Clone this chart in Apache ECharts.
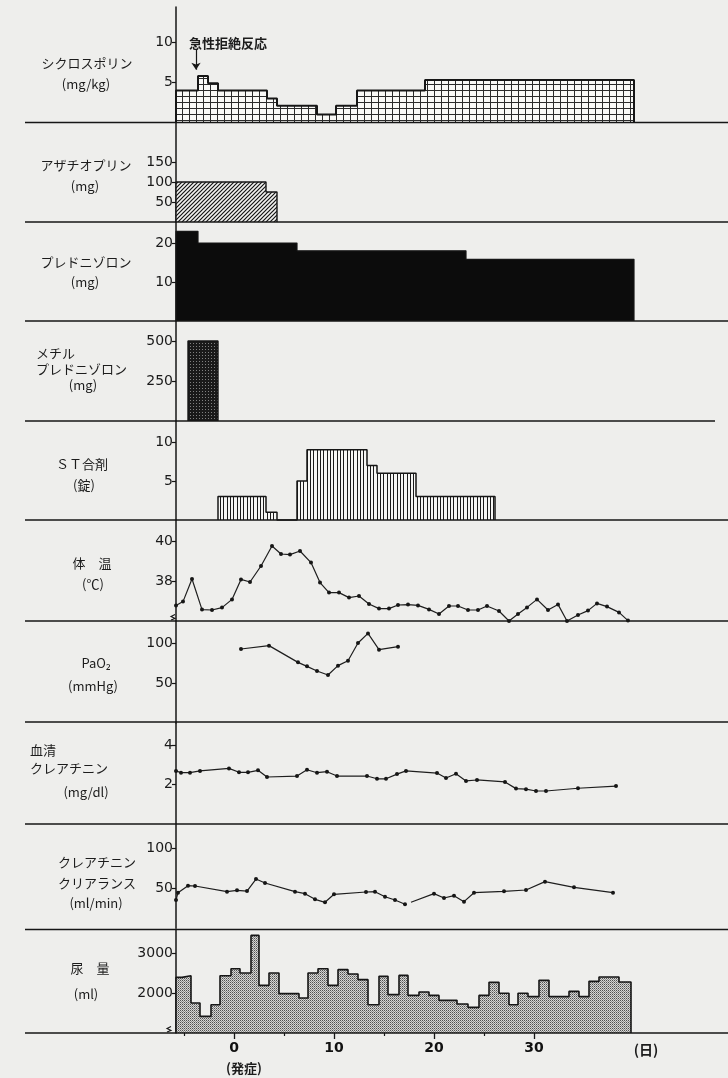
<!DOCTYPE html>
<html>
<head>
<meta charset="utf-8">
<script src="https://cdn.jsdelivr.net/npm/echarts@6/dist/echarts.min.js"></script>
<style>
  html, body { margin: 0; padding: 0; background: #eeeeec; }
  #chart { width: 728px; height: 1078px; }
</style>
</head>
<body>
<div id="chart"></div>
<script>
// ---------- day axis ----------
const dayMajorTicks = [0, 10, 20, 30];
const dayMinorTicks = [-5, 5, 15, 25];

// ---------- stepped dosing panels: interval edges (day) and dose per interval ----------
const cycloEdges = [-5.8, -3.6, -2.6, -1.6, 3.3, 4.3, 8.3, 10.2, 12.3, 19.1, 40.0];
const cycloDose  = [4, 5.8, 4.9, 4, 3, 2.1, 1, 2.1, 4, 5.3];
const cycloTicks = [5, 10];

const azaEdges = [-5.8, 3.2, 4.3];
const azaDose  = [100, 75];
const azaTicks = [50, 100, 150];

const predEdges = [-5.8, -3.6, 6.3, 23.2, 40.0];
const predDose  = [23, 20, 18, 15.8];
const predTicks = [10, 20];

const mpEdges = [-4.6, -1.6];
const mpDose  = [500];
const mpTicks = [250, 500];

const stEdges = [-1.6, 3.2, 4.3, 6.3, 7.3, 13.3, 14.3, 18.2, 26.1];
const stDose  = [3, 1, 0, 5, 9, 7, 6, 3];
const stTicks = [5, 10];

// ---------- body temperature (℃) ----------
const tempDay = [-5.8, -5.1, -4.2, -3.2, -2.2, -1.2, -0.2, 0.7, 1.6, 2.7, 3.8, 4.7, 5.6, 6.6, 7.7, 8.6,
  9.5, 10.5, 11.5, 12.5, 13.5, 14.5, 15.5, 16.4, 17.4, 18.4, 19.5, 20.5, 21.5, 22.4, 23.4, 24.4,
  25.3, 26.5, 27.5, 28.4, 29.3, 30.3, 31.4, 32.4, 33.3, 34.4, 35.4, 36.3, 37.3, 38.5, 39.4];
const tempVal = [36.77, 36.97, 38.1, 36.57, 36.55, 36.67, 37.08, 38.08, 37.95, 38.75, 39.75, 39.35, 39.32, 39.5, 38.92, 37.92,
  37.42, 37.42, 37.17, 37.25, 36.85, 36.62, 36.62, 36.8, 36.82, 36.78, 36.58, 36.35, 36.75, 36.75, 36.55, 36.55,
  36.75, 36.5, 36.0, 36.35, 36.68, 37.08, 36.55, 36.83, 36.0, 36.3, 36.52, 36.88, 36.72, 36.43, 36.02];
const tempTicks = [38, 40];

// ---------- PaO2 (mmHg) ----------
const pao2Day = [0.7, 3.5, 6.4, 7.3, 8.3, 9.4, 10.4, 11.4, 12.4, 13.4, 14.5, 16.4];
const pao2Val = [92.5, 96.7, 75.8, 70.8, 65, 60, 71.7, 77.9, 100, 112, 91.7, 95.4];
const pao2Ticks = [50, 100];

// ---------- serum creatinine (mg/dl) ----------
const creDay = [-5.8, -5.3, -4.4, -3.4, -0.5, 0.5, 1.4, 2.4, 3.3, 6.3, 7.3, 8.3, 9.3, 10.3, 13.3, 14.3,
  15.2, 16.3, 17.2, 20.3, 21.2, 22.2, 23.2, 24.3, 27.1, 28.2, 29.2, 30.2, 31.2, 34.4, 38.2];
const creVal = [2.68, 2.59, 2.59, 2.68, 2.81, 2.61, 2.61, 2.71, 2.37, 2.42, 2.74, 2.59, 2.64, 2.42, 2.42, 2.28,
  2.28, 2.52, 2.68, 2.57, 2.32, 2.54, 2.17, 2.22, 2.12, 1.78, 1.75, 1.66, 1.66, 1.80, 1.91];
const creTicks = [2, 4];

// ---------- creatinine clearance (ml/min), two recorded runs ----------
const ccrDayA = [-5.8, -5.6, -4.6, -3.9, -0.7, 0.3, 1.3, 2.2, 3.1, 6.1, 7.1, 8.1, 9.1, 10.0, 13.2, 14.1, 15.1, 16.1, 17.1];
const ccrValA = [35.4, 44.5, 53.3, 52.9, 45.8, 47.5, 46.6, 61.6, 56.6, 45.8, 43.3, 36.2, 32.5, 42.5, 45.4, 45.8, 39.5, 35.4, 30];
const ccrDayB = [17.7, 20.0, 21.0, 22.0, 23.0, 24.0, 27.0, 29.2, 31.1, 34.0, 37.9];
const ccrValB = [32.5, 43.3, 37.9, 40.8, 33.3, 44.5, 46.2, 47.9, 58.3, 51.2, 44.5];
const ccrTicks = [50, 100];

// ---------- urine volume (ml/day) ----------
const urineEdges = [-5.8, -5.2, -4.3, -3.4, -2.3, -1.4, -0.3, 0.6, 1.7, 2.5, 3.5, 4.5, 6.5, 7.4, 8.4, 9.4,
  10.4, 11.4, 12.4, 13.4, 14.5, 15.4, 16.5, 17.4, 18.5, 19.5, 20.5, 22.3, 23.4, 24.5, 25.5, 26.5,
  27.5, 28.4, 29.4, 30.5, 31.5, 33.5, 34.5, 35.5, 36.5, 38.5, 39.7];
const urineVal = [2390, 2432, 1750, 1415, 1707, 2432, 2607, 2500, 3440, 2190, 2500, 1983, 1875, 2500, 2607,
  2190, 2583, 2475, 2333, 1707, 2416, 1958, 2440, 1940, 2025, 1940, 1816, 1725, 1640, 1940, 2266,
  1993, 1707, 1993, 1908, 2316, 1908, 2040, 1908, 2291, 2400, 2275];
const urineTicks = [2000, 3000];

// ---------- layout ----------
const INK = '#161616';
const AXIS_X = 176;           // left edge of every plot
const DAY_MIN = -5.8, DAY_MAX = 49.4;
const panels = [
  { top: 7,     bottom: 122.5, min: 0,    max: 14.44, ticks: cycloTicks },
  { top: 122.5, bottom: 222,   min: 0,    max: 248.75, ticks: azaTicks },
  { top: 222,   bottom: 321,   min: 0,    max: 25.38, ticks: predTicks },
  { top: 321,   bottom: 421,   min: 0,    max: 625,   ticks: mpTicks },
  { top: 421,   bottom: 520,   min: 0,    max: 12.69, ticks: stTicks },
  { top: 520,   bottom: 621,   min: 36,   max: 41.05, ticks: tempTicks },
  { top: 621,   bottom: 723,   min: 0,    max: 127.5, ticks: pao2Ticks },
  { top: 722,   bottom: 823.6, min: 0,    max: 5.17,  ticks: creTicks },
  { top: 824,   bottom: 928.3, min: 0,    max: 130.4, ticks: ccrTicks },
  { top: 929.5, bottom: 1033,  min: 1000, max: 3587,  ticks: urineTicks }
];
const separators = [122.5, 222, 321, 421, 520, 621, 722, 824, 929.5, 1033];

// ---------- fill patterns ----------
function tile(w, h, draw) {
  const c = document.createElement('canvas');
  c.width = w; c.height = h;
  draw(c.getContext('2d'));
  return c;
}
const gridTile = tile(7, 6, g => {
  g.fillStyle = '#f8f8f6'; g.fillRect(0, 0, 7, 6);
  g.fillStyle = '#2a2a2a'; g.fillRect(0, 0, 7, 1); g.fillRect(0, 0, 1, 6);
});
const hatchTile = tile(4, 4, g => {
  g.fillStyle = '#f2f2f0'; g.fillRect(0, 0, 4, 4);
  g.strokeStyle = '#141414'; g.lineWidth = 1.2;
  g.beginPath();
  g.moveTo(0, 4); g.lineTo(4, 0);
  g.moveTo(-1, 1); g.lineTo(1, -1);
  g.moveTo(3, 5); g.lineTo(5, 3);
  g.stroke();
});
const denseTile = tile(3, 3, g => {
  g.fillStyle = '#1a1a1a'; g.fillRect(0, 0, 3, 3);
  g.fillStyle = '#808080'; g.fillRect(1, 1, 1, 1);
});
const stripeTile = tile(10, 4, g => {
  g.fillStyle = '#f6f6f4'; g.fillRect(0, 0, 10, 4);
  g.fillStyle = '#1a1a1a'; [0, 3, 7].forEach(x => g.fillRect(x, 0, 1, 4));
});
const stippleTile = tile(2, 2, g => {
  g.fillStyle = '#d6d6d4'; g.fillRect(0, 0, 2, 2);
  g.fillStyle = '#505050'; g.fillRect(0, 0, 1, 1);
  g.fillStyle = '#8c8c8c'; g.fillRect(1, 1, 1, 1);
});
const pat = t => ({ image: t, repeat: 'repeat' });

// ---------- helpers ----------
function stepPoints(edges, vals, base) {
  const pts = [[edges[0], base]];
  vals.forEach((v, i) => pts.push([edges[i], v]));
  pts.push([edges[edges.length - 1], vals[vals.length - 1]]);
  pts.push([edges[edges.length - 1], base]);
  return pts;
}
const zip = (xs, ys) => xs.map((x, i) => [x, ys[i]]);

function stepSeries(idx, edges, vals, fill, width) {
  return {
    type: 'line', xAxisIndex: idx, yAxisIndex: idx, step: 'end',
    data: stepPoints(edges, vals, panels[idx].min),
    symbol: 'none', clip: false,
    lineStyle: { color: INK, width: width },
    areaStyle: { color: fill, opacity: 1, origin: 'start' }
  };
}
function dotSeries(idx, data) {
  return {
    type: 'line', xAxisIndex: idx, yAxisIndex: idx, data: data,
    symbol: 'circle', symbolSize: 4, clip: false,
    itemStyle: { color: INK },
    lineStyle: { color: '#1e1e1e', width: 1.2 }
  };
}

const numFont = "'DejaVu Sans', 'Liberation Sans', sans-serif";
const jpFont = "'Noto Sans CJK JP', 'Noto Sans', sans-serif";

const grids = panels.map(p => ({ left: AXIS_X, right: 0, top: p.top, height: p.bottom - p.top }));
const xAxes = panels.map((p, i) => ({
  gridIndex: i, type: 'value', position: 'bottom', min: DAY_MIN, max: DAY_MAX, show: i === panels.length - 1,
  axisLine: { show: false, onZero: false }, splitLine: { show: false },
  axisTick: { show: true, length: 6, customValues: dayMajorTicks, lineStyle: { color: INK, width: 1.3 } },
  axisLabel: { customValues: dayMajorTicks, margin: 8, color: '#111', fontSize: 14, fontWeight: 'bold', fontFamily: numFont }
}));
// minor day ticks on the bottom axis
xAxes.push({
  gridIndex: panels.length - 1, type: 'value', position: 'bottom', min: DAY_MIN, max: DAY_MAX,
  axisLine: { show: false, onZero: false }, splitLine: { show: false }, axisLabel: { show: false },
  axisTick: { show: true, length: 3, customValues: dayMinorTicks, lineStyle: { color: INK, width: 1.2 } }
});
const yAxes = panels.map((p, i) => ({
  gridIndex: i, type: 'value', min: p.min, max: p.max,
  axisLine: { show: true, onZero: false, lineStyle: { color: INK, width: 1.5 } },
  splitLine: { show: false },
  axisTick: { show: true, length: 4, customValues: p.ticks, lineStyle: { color: INK, width: 1.2 } },
  axisLabel: { customValues: p.ticks, margin: 3, color: '#1a1a1a', fontSize: 14, fontFamily: numFont,
    formatter: v => String(v) }
}));

const series = [
  Object.assign(stepSeries(0, cycloEdges, cycloDose, pat(gridTile), 2), {
    markLine: {
      silent: true, symbol: ['none', 'arrow'], symbolSize: 7, animation: false,
      label: { show: false },
      lineStyle: { color: INK, width: 1.2, type: 'solid' },
      data: [[{ coord: [-3.8, 9.2] }, { coord: [-3.8, 6.6] }]]
    }
  }),
  stepSeries(1, azaEdges, azaDose, pat(hatchTile), 1.4),
  stepSeries(2, predEdges, predDose, '#0c0c0c', 1.2),
  stepSeries(3, mpEdges, mpDose, pat(denseTile), 1.4),
  stepSeries(4, stEdges, stDose, pat(stripeTile), 1.5),
  dotSeries(5, zip(tempDay, tempVal)),
  dotSeries(6, zip(pao2Day, pao2Val)),
  dotSeries(7, zip(creDay, creVal)),
  dotSeries(8, zip(ccrDayA, ccrValA)),
  dotSeries(8, zip(ccrDayB, ccrValB).map((d, i) => i === 0 ? { value: d, symbol: 'none' } : d)),
  stepSeries(9, urineEdges, urineVal, pat(stippleTile), 1.6)
];

// ---------- side labels and annotations ----------
function label(text, x, y, align, opts) {
  return {
    type: 'text', x: x, y: y, silent: true,
    style: Object.assign({ text: text, fill: '#1c1c1c', font: '13px ' + jpFont,
      align: align || 'center', verticalAlign: 'middle' }, opts || {})
  };
}
const graphics = [];
separators.forEach(y => {
  graphics.push({ type: 'line', silent: true, z: 5,
    shape: { x1: 25, y1: y, x2: y === 421 ? 715 : 728, y2: y },
    style: { stroke: INK, lineWidth: 1.5 } });
});
graphics.push(
  label('シクロスポリン', 87, 63), label('(mg/kg)', 86, 84),
  label('アザチオプリン', 86, 165), label('(mg)', 85, 186),
  label('プレドニゾロン', 86, 262), label('(mg)', 85, 282),
  label('メチル', 36, 353, 'left'), label('プレドニゾロン', 36, 369, 'left'), label('(mg)', 83, 385),
  label('ＳＴ合剤', 82, 464), label('(錠)', 84, 485),
  label('体　温', 92, 563), label('(℃)', 93, 584),
  label('PaO₂', 96, 663), label('(mmHg)', 93, 686),
  label('血清', 30, 750, 'left'), label('クレアチニン', 30, 768, 'left'), label('(mg/dl)', 86, 792),
  label('クレアチニン', 97, 862), label('クリアランス', 97, 883), label('(ml/min)', 96, 903),
  label('尿　量', 90, 968), label('(ml)', 86, 994),
  label('急性拒絶反応', 189, 43, 'left', { font: 'bold 13px ' + jpFont }),
  label('(日)', 646, 1050, 'center', { font: 'bold 14px ' + jpFont }),
  label('(発症)', 244, 1068, 'center', { font: 'bold 13px ' + jpFont })
);
// axis-break marks near the baselines of the temperature and urine axes
[[173, 617], [169, 1029]].forEach(([x, y]) => {
  graphics.push({ type: 'polyline', silent: true, z: 6,
    shape: { points: [[x - 2, y + 3], [x + 2, y + 1.5], [x - 2, y - 0.5], [x + 2, y - 2.5]] },
    style: { stroke: INK, lineWidth: 1.1, fill: null } });
});

const chart = echarts.init(document.getElementById('chart'), null, { renderer: 'canvas' });
chart.setOption({
  backgroundColor: '#eeeeec',
  animation: false,
  grid: grids,
  xAxis: xAxes,
  yAxis: yAxes,
  series: series,
  graphic: graphics
});
</script>
</body>
</html>
